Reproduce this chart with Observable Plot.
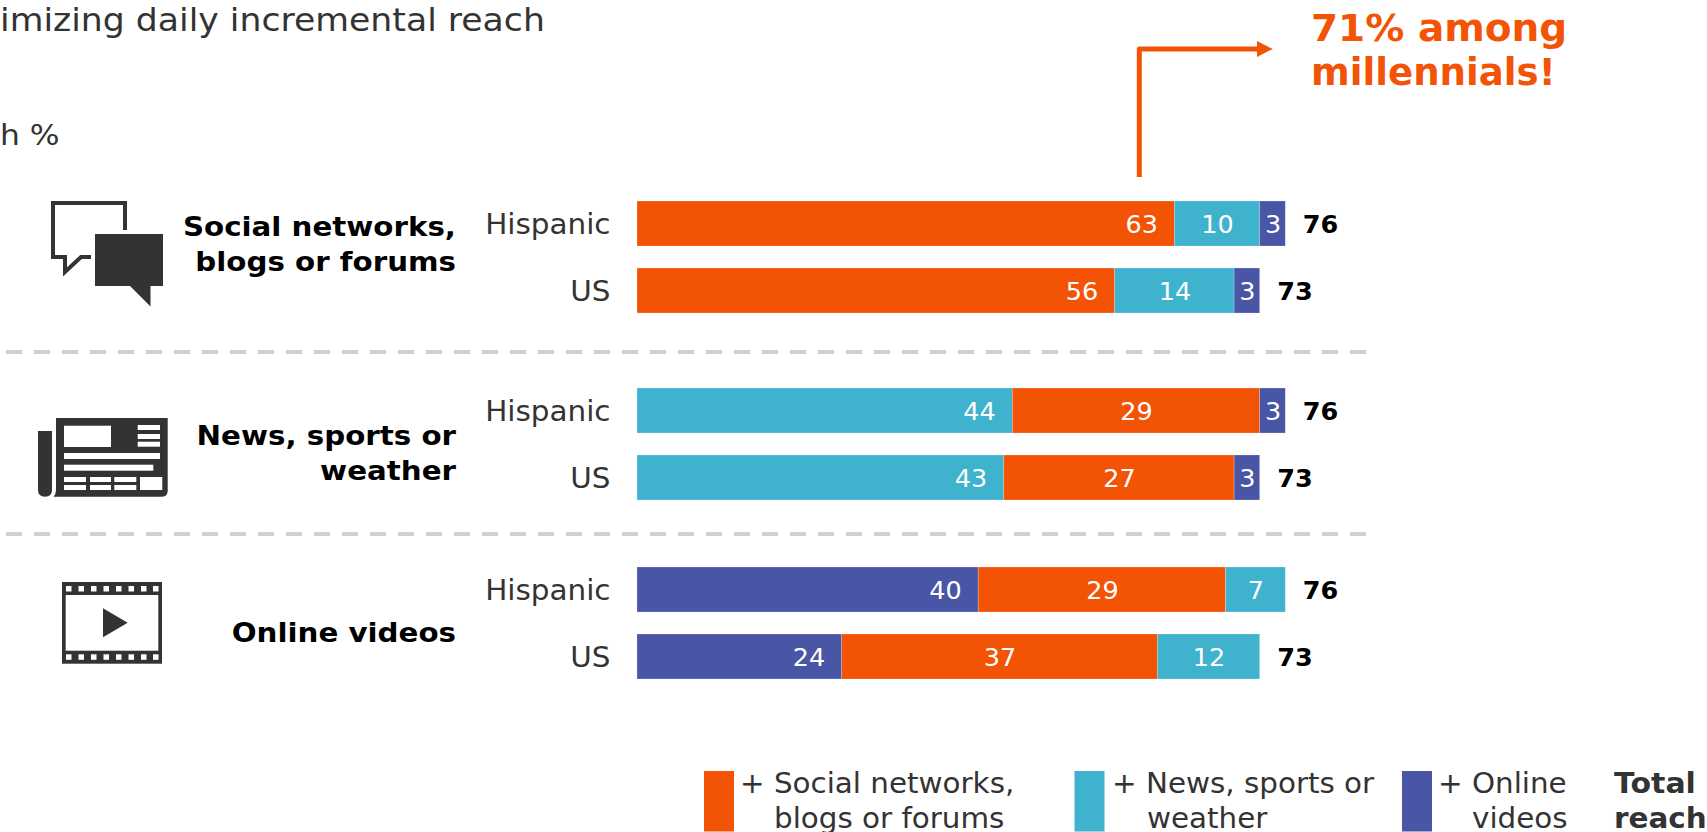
<!DOCTYPE html>
<html>
<head>
<meta charset="utf-8">
<script src="https://cdn.jsdelivr.net/npm/d3@7"></script>
<script src="https://cdn.jsdelivr.net/npm/@observablehq/plot@0.6"></script>
<style>
  html, body { margin: 0; padding: 0; background: #fff; overflow: hidden; }
  #page { position: relative; width: 1707px; height: 832px; overflow: hidden; font-family: "DejaVu Sans", sans-serif; }
  #page svg { position: absolute; left: 0; }
</style>
</head>
<body>
<div id="page"></div>
<script>
// Media categories and their colours
const categories = ["Social networks, blogs or forums", "News, sports or weather", "Online videos"];
const categoryColors = ["#F35305", "#3FB2CE", "#4856A5"];
const rows = ["Hispanic", "US"];

// Stacking order and reach per panel, leading medium first
const socialOrder = [0, 1, 2];
const socialHispanic = [63, 10, 3];
const socialUS = [56, 14, 3];
const newsOrder = [1, 0, 2];
const newsHispanic = [44, 29, 3];
const newsUS = [43, 27, 3];
const videoOrder = [2, 0, 1];
const videoHispanic = [40, 29, 7];
const videoUS = [24, 37, 12];

const totalsHispanic = 76;
const totalsUS = 73;

const dark = "#333333";
const panelStep = 67.25;
const barHeight = 45;
const bandPadding = 1 - barHeight / panelStep;
const panelHeight = panelStep * (2 + bandPadding);

const page = document.getElementById("page");

// Widens a text horizontally, glyphs included
function widen(node, factor) {
  node.setAttribute("textLength", node.getComputedTextLength() * factor);
  node.setAttribute("lengthAdjust", "spacingAndGlyphs");
}

// One small stacked bar chart per leading medium
function panel(top, order, hispanic, us) {
  const toRows = (row, values) => values.map((value, i) => ({
    row, value, category: categories[order[i]], lead: i === 0
  }));
  const data = [...toRows("Hispanic", hispanic), ...toRows("US", us)];
  const totals = [
    {row: "Hispanic", total: totalsHispanic},
    {row: "US", total: totalsUS}
  ];
  const chart = Plot.plot({
    width: 1707,
    height: panelHeight,
    marginLeft: 637,
    marginRight: 217,
    marginTop: 0,
    marginBottom: 0,
    x: {domain: [0, 100], axis: null},
    y: {domain: rows, padding: bandPadding, axis: null},
    color: {domain: categories, range: categoryColors},
    style: {background: "transparent", fontFamily: "'DejaVu Sans', sans-serif", overflow: "visible"},
    marks: [
      Plot.barX(data, Plot.stackX({
        x: "value", y: "row", z: "category", order: null,
        fill: "category", stroke: "#ffffff", strokeOpacity: 0.35, strokeWidth: 0.6
      })),
      // Leading segment: value sits near the right end of the bar
      Plot.text(data.filter((d) => d.lead), {
        x: "value", y: "row", text: "value", textAnchor: "end", dx: -17, dy: 1,
        fill: "#fff", fontSize: 25.5
      }),
      // Remaining segments: value centred in the segment
      Plot.text(data, Plot.stackX({
        x: "value", y: "row", z: "category", order: null, dy: 1,
        text: (d) => (d.lead ? "" : d.value),
        fill: "#fff", fontSize: 25.5
      })),
      Plot.text(totals, {
        x: "total", y: "row", text: "total", textAnchor: "start", dx: 17, dy: 1,
        fill: "#000", fontWeight: "bold", fontSize: 25.5
      }),
      Plot.axisY({anchor: "left", tickSize: 0, tickPadding: 27, fontSize: 27.5, label: null, color: dark, dy: 1})
    ]
  });
  chart.style.top = top + "px";
  page.appendChild(chart);
  chart.querySelectorAll('g[aria-label="y-axis tick label"] text').forEach((t) => widen(t, 1.07));
}

// Surrounding text, separators, icons and the callout arrow
const overlay = d3.select(page).append("svg")
  .attr("width", 1707).attr("height", 832).style("top", "0px");

function addText(x, y, text, size, options = {}) {
  const label = overlay.append("text")
    .attr("x", x).attr("y", y).text(text)
    .attr("font-size", size)
    .attr("font-family", "'DejaVu Sans', sans-serif")
    .attr("font-weight", options.weight || "normal")
    .attr("text-anchor", options.anchor || "start")
    .attr("fill", options.fill || dark);
  widen(label.node(), options.stretch || 1);
}

addText(0, 31, "imizing daily incremental reach", 32, {stretch: 1.083});
addText(0, 145, "h %", 28.5, {stretch: 1.1});

[352, 534].forEach((y) => {
  overlay.append("line")
    .attr("x1", 6).attr("x2", 1366).attr("y1", y).attr("y2", y)
    .attr("stroke", "#D0D0D0").attr("stroke-width", 4).attr("stroke-dasharray", "16 12");
});

// Panel headings
[
  [236, "Social networks,"], [271, "blogs or forums"],
  [445, "News, sports or"], [480, "weather"],
  [642, "Online videos"]
].forEach(([y, label]) => addText(456, y, label, 27, {anchor: "end", weight: "bold", fill: "#000", stretch: 1.085}));

// Chat bubbles icon
overlay.append("path")
  .attr("d", "M125,230V203H53V257H65V272L81,257H91")
  .attr("fill", "none").attr("stroke", dark).attr("stroke-width", 4);
overlay.append("path")
  .attr("d", "M95,234H163V286H150.5V306.5L130,286H95Z").attr("fill", dark);

// Newspaper icon
overlay.append("path")
  .attr("d", "M56,418H167.7V491Q167.7,496.7,162,496.7H53.5Q56,494,56,490Z").attr("fill", dark);
overlay.append("path")
  .attr("d", "M38,431H52V490Q52,496.7,45,496.7Q38,496.7,38,490Z").attr("fill", dark);
[
  [64, 425.7, 47, 21.3], [137.7, 425, 22.3, 5], [137.7, 434, 22.3, 5], [137.7, 441.7, 22.3, 5],
  [64, 453, 96, 6], [64, 464.7, 89.3, 6],
  [64, 477, 22, 5], [90, 477, 21, 5], [114.3, 477, 22, 5],
  [64, 485, 22, 5], [90, 485, 21, 5], [114.3, 485, 22, 5],
  [140, 477, 22.3, 13]
].forEach(([x, y, w, h]) => {
  overlay.append("rect").attr("x", x).attr("y", y).attr("width", w).attr("height", h).attr("fill", "#fff");
});

// Film strip icon
overlay.append("rect").attr("x", 62).attr("y", 582).attr("width", 100).attr("height", 81.7).attr("fill", dark);
overlay.append("rect").attr("x", 65.7).attr("y", 595).attr("width", 92.6).attr("height", 55.7).attr("fill", "#fff");
[66, 78.5, 91, 103.5, 116, 128.5, 141, 153].forEach((x) => {
  [586, 654.3].forEach((y) => {
    overlay.append("rect").attr("x", x).attr("y", y).attr("width", 5.5).attr("height", 5.5).attr("fill", "#fff");
  });
});
overlay.append("path").attr("d", "M103,608.3L127.7,622.7L103,637.3Z").attr("fill", dark);

// Millennials callout
overlay.append("path")
  .attr("d", "M1139.3,177V49H1258")
  .attr("fill", "none").attr("stroke", categoryColors[0]).attr("stroke-width", 5).attr("stroke-linejoin", "round");
overlay.append("path").attr("d", "M1257,41L1272.7,49L1257,57Z").attr("fill", categoryColors[0]);
addText(1311, 41, "71% among", 36.5, {weight: "bold", fill: categoryColors[0], stretch: 1.068});
addText(1311, 85, "millennials!", 36.5, {weight: "bold", fill: categoryColors[0], stretch: 1.018});

// Legend along the bottom edge
[[704, 0], [1074.5, 1], [1402, 2]].forEach(([x, i]) => {
  overlay.append("rect").attr("x", x).attr("y", 771).attr("width", 30).attr("height", 60.5).attr("fill", categoryColors[i]);
});
const legendStretch = {stretch: 1.068};
addText(740, 793, "+ Social networks,", 27.5, legendStretch);
addText(774, 828, "blogs or forums", 27.5, legendStretch);
addText(1112, 793, "+ News, sports or", 27.5, legendStretch);
addText(1147, 828, "weather", 27.5, legendStretch);
addText(1438, 793, "+ Online", 27.5, legendStretch);
addText(1472, 828, "videos", 27.5, legendStretch);
addText(1614, 793, "Total", 27.5, {weight: "bold", stretch: 1.09});
addText(1614, 828, "reach", 27.5, {weight: "bold", stretch: 1.07});

panel(178.75, socialOrder, socialHispanic, socialUS);
panel(365.9, newsOrder, newsHispanic, newsUS);
panel(544.85, videoOrder, videoHispanic, videoUS);
</script>
</body>
</html>
